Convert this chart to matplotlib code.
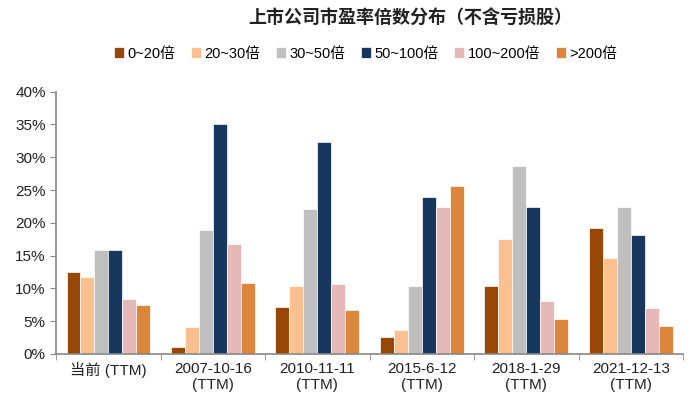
import numpy as np
import matplotlib.pyplot as plt
from matplotlib.ticker import FixedLocator, PercentFormatter

plt.rcParams['font.family'] = ['Liberation Sans', 'Noto Sans CJK SC', 'DejaVu Sans']

categories = ['当前 (TTM)', '2007-10-16\n(TTM)', '2010-11-11\n(TTM)',
              '2015-6-12\n(TTM)', '2018-1-29\n(TTM)', '2021-12-13\n(TTM)']
series_names = ['0~20倍', '20~30倍', '30~50倍', '50~100倍', '100~200倍', '>200倍']
pe_0_20 = [12.5, 1.0, 7.2, 2.6, 10.4, 19.2]
pe_20_30 = [11.8, 4.1, 10.4, 3.6, 17.6, 14.6]
pe_30_50 = [15.8, 18.9, 22.1, 10.4, 28.6, 22.4]
pe_50_100 = [15.8, 35.0, 32.4, 23.9, 22.4, 18.1]
pe_100_200 = [8.4, 16.7, 10.7, 22.4, 8.0, 7.0]
pe_200_up = [7.5, 10.8, 6.7, 25.6, 5.3, 4.3]
colors = ['#974706', '#FAC090', '#BFBFBF', '#17375E', '#E6B9B8', '#DC853C']

series = [pe_0_20, pe_20_30, pe_30_50, pe_50_100, pe_100_200, pe_200_up]

fig = plt.figure(figsize=(6.92, 4.13), dpi=100)
ax = fig.add_axes([0.081, 0.143, 0.906, 0.635])

x = np.arange(len(categories))
w = 0.8 / len(series)
for i, (vals, name, c) in enumerate(zip(series, series_names, colors)):
    ax.bar(x - 0.4 + w * (i + 0.5), vals, width=w, color=c, label=name,
           edgecolor='white', linewidth=0.5)

ax.set_xlim(-0.5, len(categories) - 0.5)
ax.set_ylim(0, 40)
ax.yaxis.set_major_locator(FixedLocator(range(0, 41, 5)))
ax.yaxis.set_major_formatter(PercentFormatter(decimals=0))

ax.set_xticks(x)
ax.set_xticklabels(categories, fontsize=11, color='#222222')
ax.xaxis.set_minor_locator(FixedLocator(np.arange(-0.5, len(categories), 1)))
ax.tick_params(axis='x', which='major', length=0, pad=6)
ax.tick_params(axis='x', which='minor', length=4, color='#888888')
ax.tick_params(axis='y', length=4, color='#888888', labelsize=11, labelcolor='#222222')

for s in ['top', 'right']:
    ax.spines[s].set_visible(False)
for s in ['left', 'bottom']:
    ax.spines[s].set_color('#888888')
    ax.spines[s].set_linewidth(1.2)

fig.text(0.593, 0.955, '上市公司市盈率倍数分布（不含亏损股）', ha='center', va='center',
         fontsize=13, fontweight='bold', color='#222222')

fig.legend(loc='center', bbox_to_anchor=(0.528, 0.87), ncol=6, frameon=False,
           fontsize=10.5, handlelength=0.7, handleheight=0.7, handletextpad=0.2,
           columnspacing=1.1)

fig.savefig('out.png', dpi=100)
